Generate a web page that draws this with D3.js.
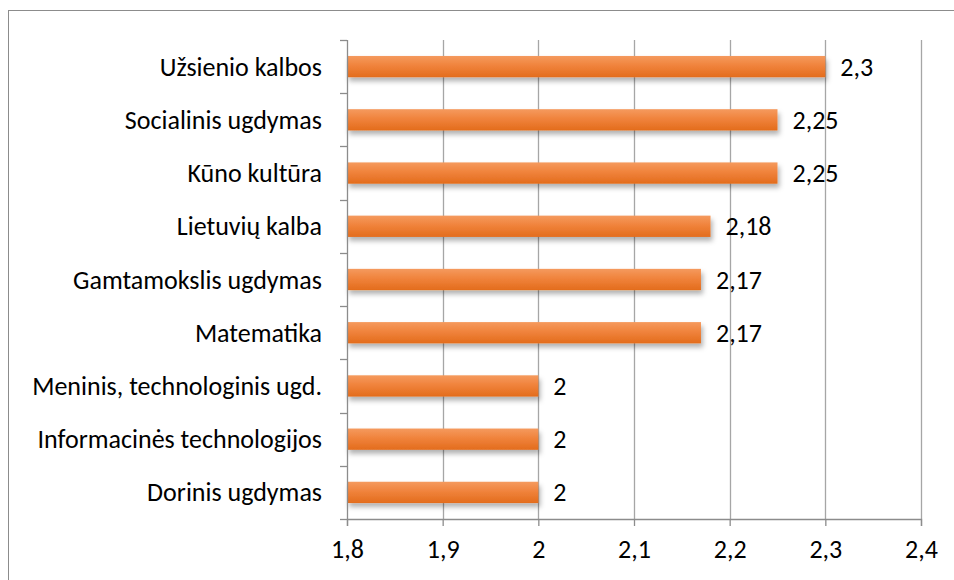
<!DOCTYPE html>
<html>
<head>
<meta charset="utf-8">
<script src="https://cdn.jsdelivr.net/npm/d3@7"></script>
<style>
  body { margin: 0; background: #fff; }
  text { font-family: Carlito, Calibri, Lato, sans-serif; fill: #000; }
</style>
</head>
<body>
<div id="chart"></div>
<script>
// data, top bar first
var subjects = ["Užsienio kalbos", "Socialinis ugdymas", "Kūno kultūra", "Lietuvių kalba",
  "Gamtamokslis ugdymas", "Matematika", "Meninis, technologinis ugd.",
  "Informacinės technologijos", "Dorinis ugdymas"];
var scores = [2.3, 2.25, 2.25, 2.18, 2.17, 2.17, 2, 2, 2];
var xTicks = [1.8, 1.9, 2, 2.1, 2.2, 2.3, 2.4];

var width = 954, height = 580;
var plotLeft = 347, plotRight = 921, plotTop = 40, plotBottom = 519;
var fontSize = 26;

var fmt = function(d) { return String(+d.toFixed(2)).replace(".", ","); };

var svg = d3.select("#chart").append("svg")
  .attr("width", width)
  .attr("height", height);

var defs = svg.append("defs");
var grad = defs.append("linearGradient")
  .attr("id", "barGrad")
  .attr("x1", 0).attr("y1", 0).attr("x2", 0).attr("y2", 1);
grad.append("stop").attr("offset", "0%").attr("stop-color", "#f59a5e");
grad.append("stop").attr("offset", "45%").attr("stop-color", "#f0833c");
grad.append("stop").attr("offset", "100%").attr("stop-color", "#e36c1c");

var shadow = defs.append("filter").attr("id", "shadow")
  .attr("x", "-5%").attr("y", "-30%").attr("width", "115%").attr("height", "190%");
shadow.append("feDropShadow")
  .attr("dx", 2).attr("dy", 4).attr("stdDeviation", 2.5)
  .attr("flood-color", "#000").attr("flood-opacity", 0.3);

// outer frame
svg.append("rect")
  .attr("x", 8.5).attr("y", 10.5)
  .attr("width", 1000).attr("height", 1000)
  .attr("fill", "none")
  .attr("stroke", "#8c8c8c");

var x = d3.scaleLinear().domain([1.8, 2.4]).range([plotLeft, plotRight]);
var y = d3.scaleBand().domain(subjects).range([plotTop, plotBottom])
  .paddingInner(0.6).paddingOuter(0.3);
var yEdges = d3.range(subjects.length + 1).map(function(i) {
  return plotTop + i * (plotBottom - plotTop) / subjects.length;
});

// gridlines
svg.append("g").selectAll("line")
  .data(xTicks.slice(1))
  .enter().append("line")
  .attr("x1", function(d) { return Math.round(x(d)) + 0.5; })
  .attr("x2", function(d) { return Math.round(x(d)) + 0.5; })
  .attr("y1", plotTop)
  .attr("y2", plotBottom)
  .attr("stroke", "#a6a6a6")
  .attr("stroke-width", 1.3);

// bars
svg.append("g").selectAll("rect")
  .data(subjects)
  .enter().append("rect")
  .attr("x", x(1.8))
  .attr("y", function(d) { return y(d); })
  .attr("width", function(d, i) { return x(scores[i]) - x(1.8); })
  .attr("height", y.bandwidth())
  .attr("fill", "url(#barGrad)")
  .attr("filter", "url(#shadow)");

// y axis line + ticks
var yAxis = svg.append("g").attr("stroke", "#8c8c8c").attr("stroke-width", 1.3);
yAxis.append("line")
  .attr("x1", plotLeft + 0.5).attr("x2", plotLeft + 0.5)
  .attr("y1", plotTop).attr("y2", plotBottom);
yAxis.selectAll(".tk").data(yEdges).enter().append("line")
  .attr("x1", plotLeft - 7).attr("x2", plotLeft)
  .attr("y1", function(d) { return Math.round(d) + 0.5; })
  .attr("y2", function(d) { return Math.round(d) + 0.5; });

// x axis
var xAxis = svg.append("g")
  .attr("transform", "translate(0," + plotBottom + ")")
  .call(d3.axisBottom(x).tickValues(xTicks).tickFormat(fmt).tickSize(7).tickPadding(14));
xAxis.select(".domain").attr("stroke", "#8c8c8c").attr("stroke-width", 1.3);
xAxis.selectAll(".tick line").attr("stroke", "#8c8c8c").attr("stroke-width", 1.3);
xAxis.selectAll(".tick text").attr("font-size", fontSize)
  .style("font-family", "Carlito, Calibri, Lato, sans-serif").attr("fill", "#000");

// category labels
svg.append("g").selectAll("text")
  .data(subjects)
  .enter().append("text")
  .attr("x", 322)
  .attr("y", function(d) { return y(d) + y.bandwidth() / 2; })
  .attr("dy", "0.35em")
  .attr("text-anchor", "end")
  .attr("font-size", fontSize)
  .text(function(d) { return d; });

// value labels
svg.append("g").selectAll("text")
  .data(scores)
  .enter().append("text")
  .attr("x", function(d) { return x(d) + 15; })
  .attr("y", function(d, i) { return y(subjects[i]) + y.bandwidth() / 2; })
  .attr("dy", "0.35em")
  .attr("font-size", fontSize)
  .text(fmt);
</script>
</body>
</html>
